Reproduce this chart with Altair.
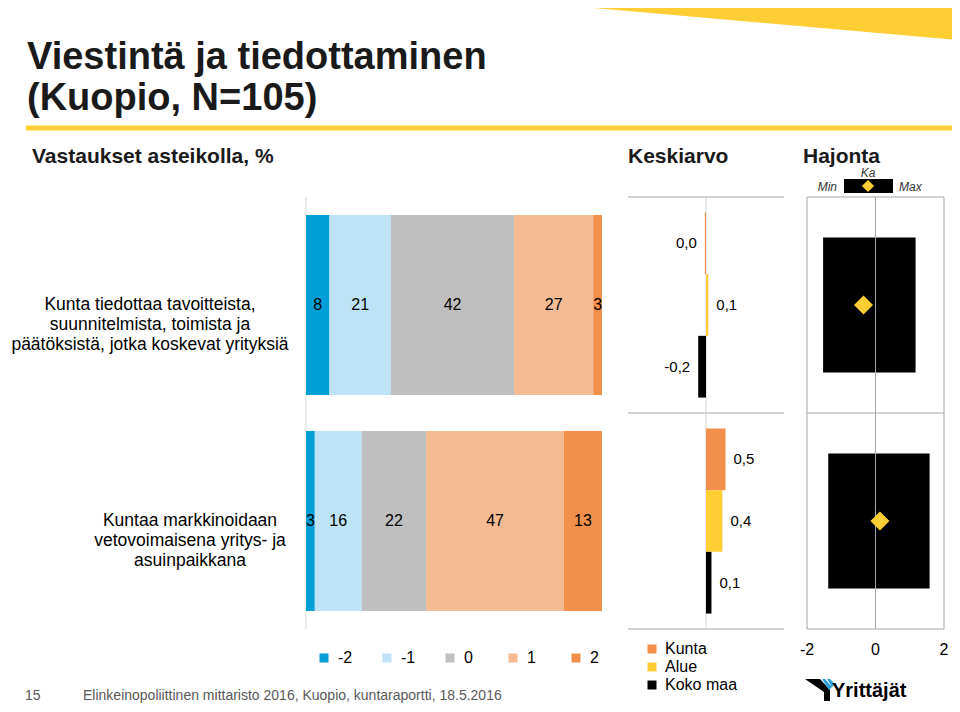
import altair as alt
import pandas as pd

# ---------------- data ----------------
categories = [
    "Kunta tiedottaa tavoitteista, suunnitelmista, toimista ja päätöksistä, jotka koskevat yrityksiä",
    "Kuntaa markkinoidaan vetovoimaisena yritys- ja asuinpaikkana",
]
category_lines = [
    ["Kunta tiedottaa tavoitteista,", "suunnitelmista, toimista ja", "päätöksistä, jotka koskevat yrityksiä"],
    ["Kuntaa markkinoidaan", "vetovoimaisena yritys- ja", "asuinpaikkana"],
]

answer_levels = ["-2", "-1", "0", "1", "2"]
answer_colors = ["#009ED6", "#BEE3F6", "#BFBFBF", "#F5BC93", "#F0904A"]
pct_q1 = [8, 21, 42, 27, 3]
pct_q2 = [3, 16, 22, 47, 13]

series = ["Kunta", "Alue", "Koko maa"]
series_colors = ["#F0904A", "#FFCD34", "#000000"]
mean_q1 = [-0.03, 0.06, -0.2]
mean_q2 = [0.5, 0.42, 0.14]
mean_labels_q1 = ["0,0", "0,1", "-0,2"]
mean_labels_q2 = ["0,5", "0,4", "0,1"]

hajonta_min = [-1.53, -1.38]
hajonta_max = [1.17, 1.58]
hajonta_ka = [-0.35, 0.13]
hajonta_ticks = [-2, 0, 2]
hajonta_tick_labels = ["-2", "0", "2"]

title_lines = ["Viestintä ja tiedottaminen", "(Kuopio, N=105)"]
subtitle_left = "Vastaukset asteikolla, %"
subtitle_mean = "Keskiarvo"
subtitle_sd = "Hajonta"
key_labels = ["Min", "Ka", "Max"]
footer_page = "15"
footer_text = "Elinkeinopoliittinen mittaristo 2016, Kuopio, kuntaraportti, 18.5.2016"
logo_text = "Yrittäjät"

FONT = "Liberation Sans"
YELLOW = "#FFCD34"
GRID = "#A6A6A6"

# ---------------- tables ----------------
pcts = [pct_q1, pct_q2]
bars_df = pd.DataFrame(
    [
        {"cat": c, "level": lv, "order": j, "pct": pcts[i][j]}
        for i, c in enumerate(categories)
        for j, lv in enumerate(answer_levels)
    ]
)
means = [mean_q1, mean_q2]
mlabels = [mean_labels_q1, mean_labels_q2]
mean_df = pd.DataFrame(
    [
        {"cat": c, "series": s, "value": means[i][j], "label": mlabels[i][j]}
        for i, c in enumerate(categories)
        for j, s in enumerate(series)
    ]
)
haj_df = pd.DataFrame(
    {"cat": categories, "lo": hajonta_min, "hi": hajonta_max, "ka": hajonta_ka}
)
cat_df = pd.DataFrame({"cat": categories, "lines": ["|".join(l) for l in category_lines]})
frame_df = pd.DataFrame({"cat": categories, "a": -2, "b": 2})
ticks_df = pd.DataFrame({"t": hajonta_ticks, "lab": hajonta_tick_labels})
zero_df = pd.DataFrame({"z": [0]})

# ---------------- scales ----------------
Y_SCALE = alt.Scale(domain=categories, range=[189, 621], paddingInner=0, paddingOuter=0)
BAR_X = alt.Scale(domain=[0, 1], range=[298, 594])
MEAN_X = alt.Scale(domain=[-2, 2], range=[620, 776])
HAJ_X = alt.Scale(domain=[-2, 2], range=[799, 936])
YOFF = alt.YOffset("series:N", scale=alt.Scale(domain=series, paddingInner=0, paddingOuter=0.25))


def Y(**kw):
    return alt.Y("cat:N", scale=Y_SCALE, axis=None, **kw)


def txt(s, x, y, **mk):
    base = dict(font=FONT, color="#000000", baseline="alphabetic", align="left")
    base.update(mk)
    return alt.Chart(pd.DataFrame({"t": [s]})).mark_text(**base).encode(
        text="t:N", x=alt.value(x), y=alt.value(y)
    )


# ---------------- stacked bars ----------------
stacked = alt.Chart(bars_df).transform_stack(
    stack="pct",
    groupby=["cat"],
    as_=["x0", "x1"],
    offset="normalize",
    sort=[alt.SortField("order", "ascending")],
).transform_calculate(mid="(datum.x0 + datum.x1) / 2")

bar_rects = stacked.mark_bar(height={"band": 0.833}).encode(
    x=alt.X("x0:Q", scale=BAR_X, axis=None),
    x2="x1:Q",
    y=Y(),
    color=alt.Color(
        "level:N",
        scale=alt.Scale(domain=answer_levels, range=answer_colors),
        legend=alt.Legend(
            orient="none", legendX=308, legendY=642, direction="horizontal",
            columns=5, gridAlign="all", columnPadding=26, symbolType="square",
            symbolSize=81, symbolStrokeWidth=0, labelFontSize=16, labelFont=FONT,
            labelColor="#000000", labelOffset=6, title=None, padding=0,
        ),
    ),
)
bar_text = stacked.mark_text(font=FONT, fontSize=16, color="#000000", baseline="middle").encode(
    x=alt.X("mid:Q", scale=BAR_X, axis=None),
    y=Y(),
    text="pct:Q",
)
bar_axis = alt.Chart(zero_df).mark_rule(color="#D9D9D9", strokeWidth=1).encode(
    x=alt.X("z:Q", scale=BAR_X, axis=None), y=alt.value(189), y2=alt.value(621)
)

cat_text = []
for i, cx in enumerate([142, 182]):
    cat_text.append(
        alt.Chart(cat_df)
        .transform_filter(alt.datum.cat == categories[i])
        .transform_calculate(lab="split(datum.lines, '|')")
        .mark_text(font=FONT, fontSize=17.5, lineHeight=20, align="center", baseline="middle", color="#000000")
        .encode(text="lab:N", x=alt.value(cx), y=Y())
    )

# ---------------- means ----------------
mean_frame_top = alt.Chart(frame_df).mark_rule(color=GRID).encode(
    x=alt.X("a:Q", scale=MEAN_X, axis=None), x2="b:Q", y=Y(bandPosition=0)
)
mean_frame_bot = alt.Chart(frame_df).transform_filter(alt.datum.cat == categories[-1]).mark_rule(color=GRID).encode(
    x=alt.X("a:Q", scale=MEAN_X, axis=None), x2="b:Q", y=Y(bandPosition=1)
)
mean_zero = alt.Chart(zero_df).mark_rule(color="#D0D0D0").encode(
    x=alt.X("z:Q", scale=MEAN_X, axis=None), y=alt.value(189), y2=alt.value(621)
)
mean_bars = alt.Chart(mean_df).mark_bar().encode(
    x=alt.X("value:Q", scale=MEAN_X, axis=None),
    y=Y(),
    yOffset=YOFF,
    color=alt.Color(
        "series:N",
        scale=alt.Scale(domain=series, range=series_colors),
        legend=alt.Legend(
            orient="none", legendX=636, legendY=633, direction="vertical",
            symbolType="square", symbolSize=81, symbolStrokeWidth=0,
            labelFontSize=16, labelFont=FONT, labelColor="#000000",
            labelOffset=5, rowPadding=2, title=None, padding=0,
        ),
    ),
)
mean_pos = alt.Chart(mean_df).transform_filter(alt.datum.value >= 0).mark_text(
    font=FONT, fontSize=15, align="left", dx=8, baseline="middle", color="#000000"
).encode(x=alt.X("value:Q", scale=MEAN_X, axis=None), y=Y(), yOffset=YOFF, text="label:N")
mean_neg = alt.Chart(mean_df).transform_filter(alt.datum.value < 0).mark_text(
    font=FONT, fontSize=15, align="right", dx=-8, baseline="middle", color="#000000"
).encode(x=alt.X("value:Q", scale=MEAN_X, axis=None), y=Y(), yOffset=YOFF, text="label:N")

# ---------------- hajonta ----------------
haj_frame_top = alt.Chart(frame_df).mark_rule(color=GRID).encode(
    x=alt.X("a:Q", scale=HAJ_X, axis=None), x2="b:Q", y=Y(bandPosition=0)
)
haj_frame_bot = alt.Chart(frame_df).transform_filter(alt.datum.cat == categories[-1]).mark_rule(color=GRID).encode(
    x=alt.X("a:Q", scale=HAJ_X, axis=None), x2="b:Q", y=Y(bandPosition=1)
)
haj_box = alt.Chart(haj_df).mark_bar(height={"band": 0.625}, color="#000000").encode(
    x=alt.X("lo:Q", scale=HAJ_X, axis=None), x2="hi:Q", y=Y()
)
haj_grid = alt.Chart(ticks_df).mark_rule(color=GRID).encode(
    x=alt.X("t:Q", scale=HAJ_X, axis=None), y=alt.value(189), y2=alt.value(621)
)
haj_dia = alt.Chart(haj_df).mark_point(shape="diamond", filled=True, size=360, color=YELLOW, opacity=1).encode(
    x=alt.X("ka:Q", scale=HAJ_X, axis=None), y=Y()
)
haj_labels = alt.Chart(ticks_df).mark_text(font=FONT, fontSize=16, baseline="middle", color="#000000").encode(
    x=alt.X("t:Q", scale=HAJ_X, axis=None), y=alt.value(642), text="lab:N"
)

# ---------------- decorations / header ----------------
tri = alt.Chart(pd.DataFrame({"k": [1]})).mark_point(
    shape="M0,0L465,0L465,41Z", size=4, filled=True, color=YELLOW, opacity=1, strokeWidth=0
).encode(x=alt.value(495), y=alt.value(-8))
hline = alt.Chart(pd.DataFrame({"k": [1]})).mark_rule(color=YELLOW, strokeWidth=5).encode(
    x=alt.value(18), x2=alt.value(952), y=alt.value(120)
)
title = alt.Chart(pd.DataFrame({"t": ["|".join(title_lines)]})).transform_calculate(
    tt="split(datum.t, '|')"
).mark_text(font=FONT, fontSize=38, fontWeight="bold", lineHeight=41, align="left",
            baseline="alphabetic", color="#1A1A1A").encode(text="tt:N", x=alt.value(19), y=alt.value(61))

sub1 = txt(subtitle_left, 24, 155, fontSize=21, fontWeight="bold", color="#1A1A1A")
sub2 = txt(subtitle_mean, 620, 155, fontSize=21, fontWeight="bold", color="#1A1A1A")
sub3 = txt(subtitle_sd, 795, 155, fontSize=21, fontWeight="bold", color="#1A1A1A")

key_rect = alt.Chart(pd.DataFrame({"k": [1]})).mark_rect(color="#000000").encode(
    x=alt.value(836), x2=alt.value(885), y=alt.value(171), y2=alt.value(185)
)
key_dia = alt.Chart(pd.DataFrame({"k": [1]})).mark_point(
    shape="diamond", filled=True, size=150, color=YELLOW, opacity=1
).encode(x=alt.value(860), y=alt.value(178))
key_min = txt(key_labels[0], 829, 179, fontSize=12, fontStyle="italic", align="right", baseline="middle", color="#333333")
key_ka = txt(key_labels[1], 860, 169, fontSize=12, fontStyle="italic", align="center", baseline="alphabetic", color="#333333")
key_max = txt(key_labels[2], 891, 179, fontSize=12, fontStyle="italic", align="left", baseline="middle", color="#333333")

foot1 = txt(footer_page, 17, 692, fontSize=14, color="#595959")
foot2 = txt(footer_text, 75, 692, fontSize=14, color="#595959")

logo_y = alt.Chart(pd.DataFrame({"k": [1]})).mark_point(
    shape="M0,0L15,0L25,11L25,22L19,22L19,13Z", size=4, filled=True, color="#000000", opacity=1, strokeWidth=0
).encode(x=alt.value(797), y=alt.value(671))
logo_s = alt.Chart(pd.DataFrame({"k": [1]})).mark_point(
    shape="M17,0L20,0L27,8L24,11ZM22,0L25,0L30,5L27,8Z", size=4, filled=True, color="#2A9FD8", opacity=1, strokeWidth=0
).encode(x=alt.value(797), y=alt.value(671))
logo_t = txt(logo_text, 824, 689, fontSize=20, fontWeight="bold", color="#000000")

chart = alt.layer(
    tri, hline, title, sub1, sub2, sub3, key_rect, key_dia, key_min, key_ka, key_max,
    bar_axis, bar_rects, bar_text, cat_text[0], cat_text[1],
    mean_frame_top, mean_frame_bot, mean_zero, mean_bars, mean_pos, mean_neg,
    haj_frame_top, haj_frame_bot, haj_box, haj_grid, haj_dia, haj_labels,
    foot1, foot2, logo_y, logo_s, logo_t,
).resolve_scale(x="independent", color="independent").properties(
    width=944, height=696, padding=0, autosize=alt.AutoSizeParams(type="none")
).configure_view(stroke=None)

chart.save("out.html", embed_options={"renderer": "svg", "actions": False})
